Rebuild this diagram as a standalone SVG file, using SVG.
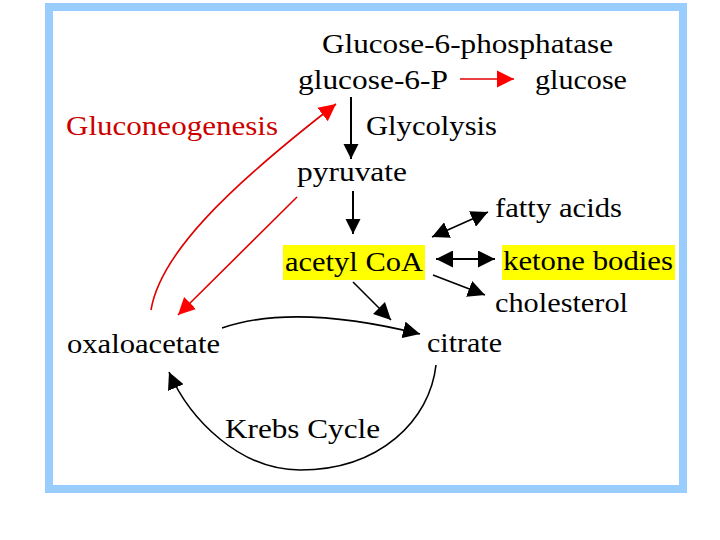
<svg xmlns="http://www.w3.org/2000/svg" width="720" height="540" viewBox="0 0 720 540">
<style>
text{font-family:"Liberation Serif","Times New Roman",serif;font-size:27px;fill:#000}
.red{fill:#CC0000}
.hl{fill:#FFFF00}
.k{stroke:#000;fill:none;stroke-width:1.6}
.kb{stroke:#000;fill:none;stroke-width:2}
.r{stroke:#E00000;fill:none;stroke-width:1.6}
</style>
<defs>
<marker id="bigK" viewBox="0 0 10 10" refX="10" refY="5" markerUnits="userSpaceOnUse" markerWidth="15" markerHeight="26" orient="auto"><path d="M0,0L10,5L0,10z" fill="#000"/></marker>
<marker id="smK" viewBox="0 0 10 10" refX="10" refY="5" markerUnits="userSpaceOnUse" markerWidth="17" markerHeight="17" orient="auto-start-reverse"><path d="M0,0L10,5L0,10z" fill="#000"/></marker>
<marker id="smR" viewBox="0 0 10 10" refX="10" refY="5" markerUnits="userSpaceOnUse" markerWidth="17" markerHeight="20" orient="auto"><path d="M0,0L10,5L0,10z" fill="#FF0000"/></marker>
</defs>
<rect width="720" height="540" fill="#fff"/>
<rect x="49" y="7" width="634" height="482" fill="#fff" stroke="#99CCFF" stroke-width="8"/>

<g id="connectors">
<line class="r" x1="460" y1="79" x2="514" y2="79" marker-end="url(#smR)"/>
<line class="kb" x1="351" y1="97" x2="351" y2="159" marker-end="url(#bigK)"/>
<line class="kb" x1="353" y1="191" x2="353" y2="234" marker-end="url(#bigK)"/>
<path class="r" d="M151,310 C160,255 225,190 336,104" marker-end="url(#smR)"/>
<line class="r" x1="297" y1="197" x2="178" y2="315" marker-end="url(#smR)"/>
<line class="k" x1="353" y1="282" x2="391" y2="320" marker-end="url(#smK)"/>
<path class="k" d="M222,328 Q295,303 420,334" marker-end="url(#smK)"/>
<line class="k" x1="432" y1="237" x2="488" y2="212" marker-start="url(#smK)" marker-end="url(#smK)"/>
<line class="kb" x1="436" y1="259" x2="495" y2="259" marker-start="url(#smK)" marker-end="url(#smK)"/>
<line class="k" x1="433" y1="275" x2="485" y2="295" marker-end="url(#smK)"/>
<path class="k" d="M436,365 C430,420 380,470 300,470 C240,470 190,420 169,372" marker-end="url(#smK)"/>
</g>

<g id="g6pase"><text x="322" y="53" textLength="291" lengthAdjust="spacingAndGlyphs">Glucose-6-phosphatase</text></g>
<g id="g6p"><text x="298" y="89" textLength="150" lengthAdjust="spacingAndGlyphs">glucose-6-P</text></g>
<g id="glucose"><text x="535" y="89" textLength="92" lengthAdjust="spacingAndGlyphs">glucose</text></g>
<g id="gluconeogenesis"><text class="red" x="66" y="135" textLength="212" lengthAdjust="spacingAndGlyphs">Gluconeogenesis</text></g>
<g id="glycolysis"><text x="366" y="135" textLength="131" lengthAdjust="spacingAndGlyphs">Glycolysis</text></g>
<g id="pyruvate"><text x="297" y="181" textLength="110" lengthAdjust="spacingAndGlyphs">pyruvate</text></g>
<g id="fatty"><text x="495" y="217" textLength="127" lengthAdjust="spacingAndGlyphs">fatty acids</text></g>
<g id="acetyl"><rect class="hl" x="283" y="245" width="142" height="35"/><text x="285" y="271" textLength="138" lengthAdjust="spacingAndGlyphs">acetyl CoA</text></g>
<g id="ketone"><rect class="hl" x="502" y="245" width="173" height="35"/><text x="503" y="270" textLength="170" lengthAdjust="spacingAndGlyphs">ketone bodies</text></g>
<g id="cholesterol"><text x="495" y="312" textLength="133" lengthAdjust="spacingAndGlyphs">cholesterol</text></g>
<g id="citrate"><text x="427" y="352" textLength="75" lengthAdjust="spacingAndGlyphs">citrate</text></g>
<g id="oxaloacetate"><text x="67" y="353" textLength="153" lengthAdjust="spacingAndGlyphs">oxaloacetate</text></g>
<g id="krebs"><text x="225" y="438" textLength="155" lengthAdjust="spacingAndGlyphs">Krebs Cycle</text></g>
</svg>
